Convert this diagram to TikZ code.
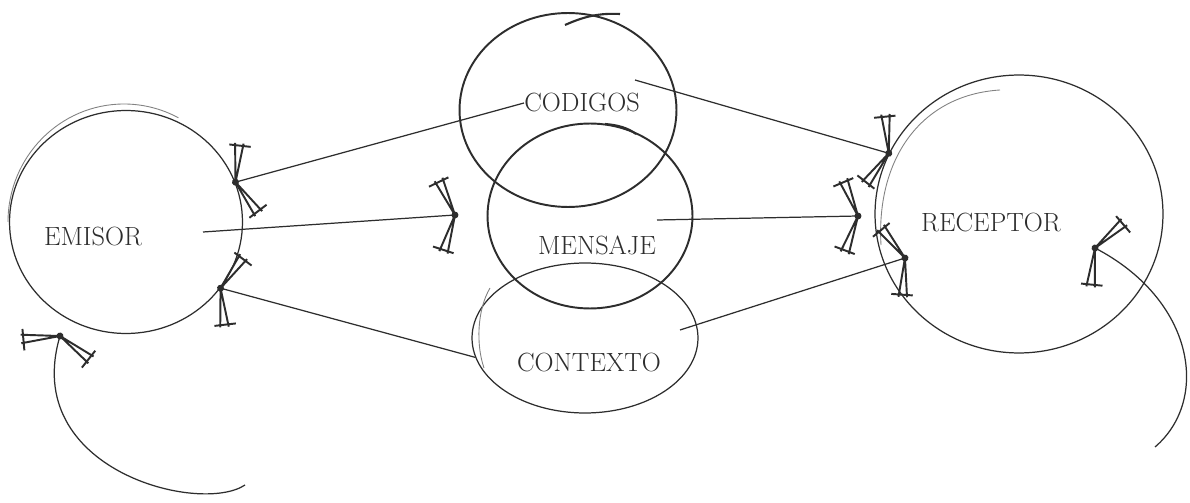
\documentclass[tikz,border=0pt]{standalone}
\usetikzlibrary{shapes.geometric,decorations.markings}
\definecolor{ink}{RGB}{45,45,45}
\definecolor{faint}{RGB}{130,130,130}
\newcommand\handhead{%
  \fill[ink] (0,0) circle (2pt);
  \draw[ink,line width=1.1pt] (0,0) -- (-10,38) (0,0) -- (-18,35) (-24,30) -- (-4,38);
  \draw[ink,line width=1.1pt] (0,0) -- (-10,-38) (0,0) -- (-18,-35) (-24,-30) -- (-4,-38);
}
\begin{document}
\begin{tikzpicture}[x=0.02cm,y=-0.02cm,
  blob/.style={ellipse,draw=ink,inner sep=0pt,line width=0.7pt},
  thickblob/.style={blob,line width=1.1pt},
  lbl/.style={text=ink,font=\fontsize{15}{18}\selectfont,inner sep=0pt},
  conn/.style={draw=ink,line width=0.7pt},
  retrace/.style={draw=faint,line width=0.5pt},
  overlap/.style={draw=ink,line width=1.2pt},
  harrow/.style={postaction={decorate,decoration={markings,mark=at position 0.9999 with {\handhead}}}}]
\useasboundingbox[fill=white] (0,0) rectangle (1190,503);

% ellipses
\node[blob,minimum width=4.66cm,minimum height=4.46cm] (emisorE) at (126,222) {};
\node[thickblob,minimum width=4.34cm,minimum height=3.88cm] (codigosE) at (568,110) {};
\node[thickblob,minimum width=4.10cm,minimum height=3.70cm] (mensajeE) at (590,216) {};
\node[blob,minimum width=4.52cm,minimum height=3.00cm] (contextoE) at (585,338) {};
\node[blob,minimum width=5.76cm,minimum height=5.56cm] (receptorE) at (1019,214) {};

% hand-drawn retraces of the outlines
\draw[retrace] (8,222) arc[start angle=180,end angle=298,x radius=116,y radius=118];
\draw[retrace] (881,245) .. controls (876,160) and (920,95) .. (1000,90);
\draw[retrace] (490,288) .. controls (477,310) and (476,345) .. (484,368);
\draw[overlap] (565,25) .. controls (585,16) and (600,13) .. (620,14);
\draw[overlap] (605,124) .. controls (618,125) and (628,128) .. (636,134);

% labels
\node[lbl] (emisorT) at (93,237) {EMISOR};
\node[lbl] (codigosT) at (582,103) {CODIGOS};
\node[lbl] (mensajeT) at (597,245) {MENSAJE};
\node[lbl] (contextoT) at (589,362) {CONTEXTO};
\node[lbl] (receptorT) at (991,223) {RECEPTOR};

% free ends
\coordinate (emA) at (203,232);
\coordinate (emB) at (455,215);
\coordinate (coA) at (635,80);
\coordinate (meA) at (657,220);
\coordinate (meB) at (858,216);
\coordinate (cxA) at (680,330);
\coordinate (cxB) at (905,258);
\coordinate (elTail) at (245,485);
\coordinate (elTip) at (60,336);
\coordinate (rlTail) at (1155,447);
\coordinate (rlTip) at (1095,248);

% connectors
\draw[conn,harrow] (codigosT.west) -- (emisorE.20);
\draw[conn,harrow] (emA) -- (emB);
\draw[conn,harrow] (contextoE.190) -- (emisorE.-35);
\draw[conn,harrow] (coA) -- (receptorE.155);
\draw[conn,harrow] (meA) -- (meB);
\draw[conn,harrow] (cxA) -- (cxB);
\draw[conn,harrow] (elTail) .. controls (200,515) and (20,470) .. (elTip);
\draw[conn,harrow] (rlTail) .. controls (1210,400) and (1195,300) .. (rlTip);
\end{tikzpicture}
\end{document}
